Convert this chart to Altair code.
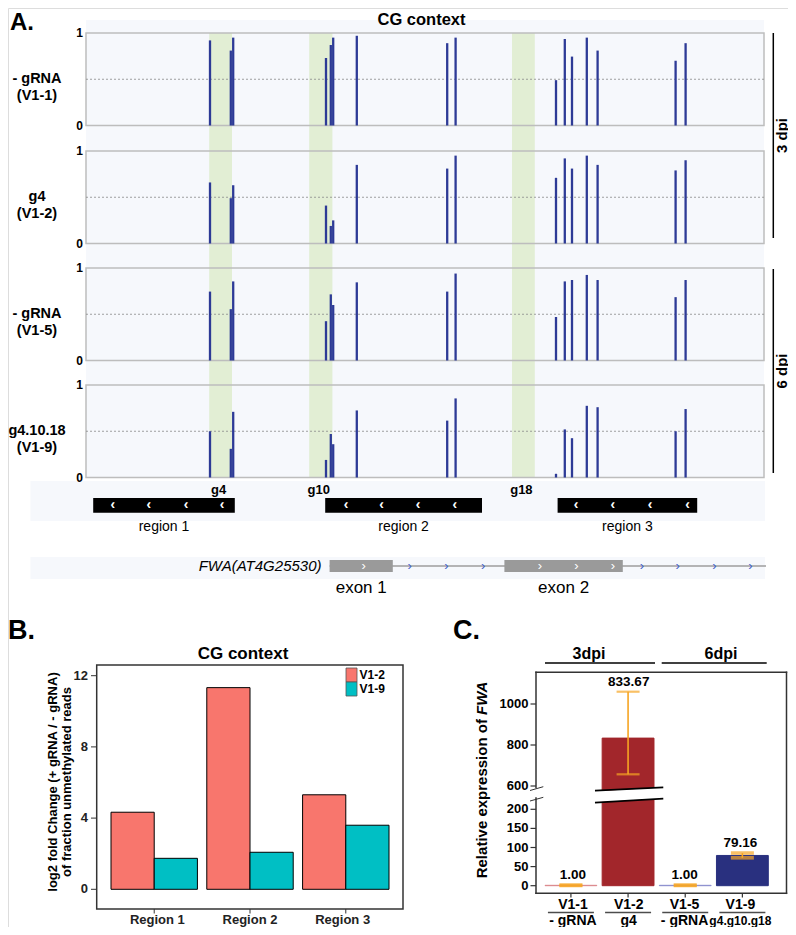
import altair as alt
import pandas as pd

FONT = "Liberation Sans"

# ---------------- data ----------------
# Panel A: CG sites along the FWA locus (bp, relative to view start)
cg_pos = [310, 362, 368, 600, 612, 618, 677, 903, 924, 1175, 1197, 1215, 1252, 1279, 1474, 1499]
row_names = ["- gRNA\n(V1-1)", "g4\n(V1-2)", "- gRNA\n(V1-5)", "g4.10.18\n(V1-9)"]
meth_v11 = [0.92, 0.81, 0.95, 0.73, 0.87, 0.95, 0.97, 0.89, 0.95, 0.49, 0.935, 0.745, 0.95, 0.81, 0.70, 0.89]
meth_v12 = [0.66, 0.49, 0.63, 0.41, 0.19, 0.25, 0.85, 0.81, 0.95, 0.71, 0.92, 0.81, 0.95, 0.85, 0.79, 0.90]
meth_v15 = [0.745, 0.555, 0.855, 0.425, 0.715, 0.60, 0.845, 0.745, 0.94, 0.47, 0.855, 0.87, 0.925, 0.87, 0.685, 0.87]
meth_v19 = [0.50, 0.31, 0.71, 0.19, 0.47, 0.36, 0.725, 0.615, 0.855, 0.04, 0.52, 0.425, 0.775, 0.76, 0.50, 0.74]
meth_rows = [meth_v11, meth_v12, meth_v15, meth_v19]

grna_names = ["g4", "g10", "g18"]
grna_start = [308, 558, 1065]
grna_end = [365, 616, 1122]

region_names = ["region 1", "region 2", "region 3"]
region_start = [18, 598, 1179]
region_end = [372, 990, 1528]
region_arrows = [67, 157, 250, 340, 650, 739, 830, 922, 1225, 1317, 1410, 1504]

exon_names = ["exon 1", "exon 2"]
exon_start = [609, 1046]
exon_end = [767, 1342]
gene_start, gene_end = 609, 1700
exon_arrows = [694, 1135, 1226, 1317]
intron_arrows = [809, 901, 993, 1390, 1479, 1571, 1661]

# Panel B
b_regions = ["Region 1", "Region 2", "Region 3"]
b_series = ["V1-2", "V1-9"]
b_v12 = [4.33, 11.33, 5.31]
b_v19 = [1.74, 2.08, 3.60]
b_ticks = [0, 4, 8, 12]

# Panel C
c_samples = ["V1-1", "V1-2", "V1-5", "V1-9"]
c_treat = ["- gRNA", "g4", "- gRNA", "g4.g10.g18"]
c_expr = [1.00, 833.67, 1.00, 79.16]
c_lo = [0.6, 657, 0.6, 73]
c_hi = [1.4, 1060, 1.4, 85.5]
c_ticks_low = [0, 50, 100, 150, 200]
c_ticks_high = [600, 800, 1000]

# ---------------- helpers ----------------
M = 8


def P(v):
    return v - M


ONE = alt.Data(values=[{"k": 0}])
BG = "#f6f8fc"
GREEN = "#e2eed4"
BLUE = "#2d3a96"
ORANGE = "#f6a523"


def txt(s, x, y, size, weight="bold", align="center", baseline="middle",
        angle=0, style="normal", color="black", lh=None):
    kw = dict(font=FONT, fontSize=size, fontWeight=weight, align=align,
              baseline=baseline, fontStyle=style, color=color)
    if angle:
        kw["angle"] = angle
    if "\n" in s:
        kw["lineBreak"] = "\n"
        if lh:
            kw["lineHeight"] = lh
    return alt.Chart(ONE).mark_text(**kw).encode(
        x=alt.value(P(x)), y=alt.value(P(y)), text=alt.value(s))


def seg(x1, y1, x2, y2, color="black", w=1.5, dash=None, cap="butt"):
    kw = dict(color=color, strokeWidth=w, strokeCap=cap)
    if dash:
        kw["strokeDash"] = dash
    return alt.Chart(ONE).mark_rule(**kw).encode(
        x=alt.value(P(x1)), y=alt.value(P(y1)),
        x2=alt.value(P(x2)), y2=alt.value(P(y2)))


def box(x1, y1, x2, y2, fill=None, stroke=None, w=1.0):
    kw = dict(strokeWidth=w)
    if fill:
        kw["fill"] = fill
    else:
        kw["fillOpacity"] = 0
    if stroke:
        kw["stroke"] = stroke
    return alt.Chart(ONE).mark_rect(**kw).encode(
        x=alt.value(P(x1)), y=alt.value(P(y1)),
        x2=alt.value(P(x2)), y2=alt.value(P(y2)))


layers = []

# ================= Panel A =================
XA = alt.Scale(domain=[0, 1695], range=[P(86), P(764)])
layers.append(box(86, 20, 764, 477.7, fill=BG))
layers.append(box(30.5, 481, 765, 521, fill=BG))
layers.append(box(30.5, 557, 765, 579, fill=BG))
layers.append(txt("A.", 10, 10.5, 24, align="left", baseline="top"))
layers.append(txt("CG context", 421.5, 25, 16.5, baseline="alphabetic"))

df_g = pd.DataFrame({"g": grna_names, "s": grna_start, "e": grna_end})
df_g["mid"] = (df_g["s"] + df_g["e"]) / 2
layers.append(alt.Chart(df_g).mark_rect(color=GREEN).encode(
    x=alt.X("s:Q", scale=XA, axis=None), x2="e:Q",
    y=alt.value(P(33)), y2=alt.value(P(477.7))))

ROW_TOP = [33, 151, 268, 385]
ROW_H = 92.5
for i, vals in enumerate(meth_rows):
    top = ROW_TOP[i]
    bot = top + ROW_H
    YR = alt.Scale(domain=[0, 1], range=[P(bot), P(top)])
    layers.append(box(86, top, 764, bot, stroke="#bdbdbd", w=1.5))
    layers.append(alt.Chart(pd.DataFrame({"v": [0.5]})).mark_rule(
        color="#8a8a8a", strokeWidth=0.8, strokeDash=[2, 2]).encode(
        x=alt.value(P(86)), x2=alt.value(P(764)),
        y=alt.Y("v:Q", scale=YR, axis=None)))
    df = pd.DataFrame({"pos": cg_pos, "frac": vals})
    layers.append(alt.Chart(df).mark_rule(color=BLUE, strokeWidth=2.3).encode(
        x=alt.X("pos:Q", scale=XA, axis=None),
        y=alt.Y("frac:Q", scale=YR, axis=None), y2=alt.datum(0)))
    layers.append(alt.Chart(pd.DataFrame({"v": [0, 1]})).mark_text(
        font=FONT, fontSize=12, fontWeight="bold", align="right", baseline="middle").encode(
        x=alt.value(P(83)), y=alt.Y("v:Q", scale=YR, axis=None), text="v:Q"))
    layers.append(txt(row_names[i], 37, (top + bot) / 2, 14.5, lh=17))

layers.append(seg(773.3, 33, 773.3, 238))
layers.append(txt("3 dpi", 781.5, 135.5, 15, angle=270))
layers.append(seg(773.3, 269, 773.3, 473))
layers.append(txt("6 dpi", 781.5, 371, 15, angle=270))

layers.append(alt.Chart(df_g).mark_text(font=FONT, fontSize=13, fontWeight="bold", dx=-2).encode(
    x=alt.X("mid:Q", scale=XA, axis=None), y=alt.value(P(490)), text="g:N"))

# region track
df_r = pd.DataFrame({"r": region_names, "s": region_start, "e": region_end})
df_r["mid"] = (df_r["s"] + df_r["e"]) / 2
layers.append(alt.Chart(df_r).mark_rect(color="black").encode(
    x=alt.X("s:Q", scale=XA, axis=None), x2="e:Q",
    y=alt.value(P(498)), y2=alt.value(P(512.7))))
layers.append(alt.Chart(pd.DataFrame({"p": region_arrows})).mark_text(
    font=FONT, fontSize=14, fontWeight="bold", color="white", baseline="middle").encode(
    x=alt.X("p:Q", scale=XA, axis=None), y=alt.value(P(504.5)), text=alt.value("\u2039")))
layers.append(alt.Chart(df_r).mark_text(font=FONT, fontSize=14, baseline="middle").encode(
    x=alt.X("mid:Q", scale=XA, axis=None), y=alt.value(P(527)), text="r:N"))

# gene track
layers.append(alt.Chart(pd.DataFrame({"s": [gene_start], "e": [gene_end]})).mark_rule(
    color="#9e9e9e", strokeWidth=1.5).encode(
    x=alt.X("s:Q", scale=XA, axis=None), x2="e:Q", y=alt.value(P(566))))
df_e = pd.DataFrame({"n": exon_names, "s": exon_start, "e": exon_end})
df_e["mid"] = (df_e["s"] + df_e["e"]) / 2
layers.append(alt.Chart(df_e).mark_rect(color="#9a9a9a").encode(
    x=alt.X("s:Q", scale=XA, axis=None), x2="e:Q",
    y=alt.value(P(560)), y2=alt.value(P(572))))
layers.append(alt.Chart(pd.DataFrame({"p": exon_arrows})).mark_text(
    font=FONT, fontSize=13, color="white", baseline="middle").encode(
    x=alt.X("p:Q", scale=XA, axis=None), y=alt.value(P(565.5)), text=alt.value("\u203a")))
layers.append(alt.Chart(pd.DataFrame({"p": intron_arrows})).mark_text(
    font=FONT, fontSize=13, color="#3f5fc8", baseline="middle").encode(
    x=alt.X("p:Q", scale=XA, axis=None), y=alt.value(P(565.5)), text=alt.value("\u203a")))
layers.append(txt("FWA(AT4G25530)", 321.5, 566, 15, weight="normal", align="right", style="italic"))
layers.append(alt.Chart(df_e).mark_text(font=FONT, fontSize=17, baseline="middle").encode(
    x=alt.X("mid:Q", scale=XA, axis=None), y=alt.value(P(588)), text="n:N"))

# ================= Panel B =================
layers.append(txt("B.", 8, 639, 27, align="left", baseline="alphabetic"))
layers.append(txt("CG context", 243, 659, 17, baseline="alphabetic"))
layers.append(box(96.7, 665, 403, 909, stroke="#333333", w=1.5))
XB = alt.Scale(domain=b_regions, range=[P(111), P(389)], paddingInner=0.098, paddingOuter=0)
YB = alt.Scale(domain=[0, 12], range=[P(889.3), P(675.7)])
CB = alt.Scale(domain=b_series, range=["#F8766D", "#00BFC4"])
df_b = pd.DataFrame({
    "region": b_regions * 2,
    "series": ["V1-2"] * 3 + ["V1-9"] * 3,
    "val": b_v12 + b_v19,
})
layers.append(alt.Chart(df_b).mark_bar(stroke="black", strokeWidth=1).encode(
    x=alt.X("region:N", scale=XB, axis=None),
    xOffset=alt.XOffset("series:N", scale=alt.Scale(domain=b_series, paddingInner=0, paddingOuter=0)),
    y=alt.Y("val:Q", scale=YB, axis=None),
    fill=alt.Fill("series:N", scale=CB, legend=None)))
df_bt = pd.DataFrame({"t": b_ticks})
layers.append(alt.Chart(df_bt).mark_rule(color="#333333", strokeWidth=1).encode(
    x=alt.value(P(91)), x2=alt.value(P(96.7)), y=alt.Y("t:Q", scale=YB, axis=None)))
layers.append(alt.Chart(df_bt).mark_text(font=FONT, fontSize=13, fontWeight="bold",
                                         align="right", baseline="middle", color="#222").encode(
    x=alt.value(P(88)), y=alt.Y("t:Q", scale=YB, axis=None), text="t:Q"))
df_br = pd.DataFrame({"region": b_regions})
layers.append(alt.Chart(df_br).mark_rule(color="#333333", strokeWidth=1).encode(
    x=alt.X("region:N", scale=XB, axis=None), y=alt.value(P(909)), y2=alt.value(P(913.5))))
layers.append(alt.Chart(df_br).mark_text(font=FONT, fontSize=13, fontWeight="bold",
                                         baseline="middle", color="#222").encode(
    x=alt.X("region:N", scale=XB, axis=None), y=alt.value(P(920)), text="region:N"))
layers.append(txt("log2 fold Change (+ gRNA / - gRNA)\nof fraction unmethylated reads",
                  53, 782, 13, angle=270, lh=14))
# legend
YL = alt.Scale(domain=b_series, range=[P(668), P(696)], paddingInner=0, paddingOuter=0)
df_l = pd.DataFrame({"series": b_series})
layers.append(alt.Chart(df_l).mark_rect(stroke="#555555", strokeWidth=0.8).encode(
    x=alt.value(P(346)), x2=alt.value(P(357)),
    y=alt.Y("series:N", scale=YL, axis=None),
    fill=alt.Fill("series:N", scale=CB, legend=None)))
layers.append(alt.Chart(df_l).mark_text(font=FONT, fontSize=12, fontWeight="bold",
                                        align="left", baseline="middle").encode(
    x=alt.value(P(359.5)), y=alt.Y("series:N", scale=YL, axis=None), text="series:N"))

# ================= Panel C =================
layers.append(txt("C.", 453, 639, 27, align="left", baseline="alphabetic"))
layers.append(txt("3dpi", 589, 658.5, 16, baseline="alphabetic"))
layers.append(seg(545, 663, 655, 663))
layers.append(txt("6dpi", 721, 658.5, 16, baseline="alphabetic"))
layers.append(seg(661.7, 663, 766.7, 663))

XC = alt.Scale(domain=c_samples, range=[P(545), P(768.3)], paddingInner=0.093, paddingOuter=0)
YCL = alt.Scale(domain=[0, 200], range=[P(885.7), P(809.3)])
YCU = alt.Scale(domain=[600, 1000], range=[P(786), P(704)])
CC = alt.Scale(domain=c_samples, range=["#dc8a8e", "#a2262b", "#8e92cf", "#29307f"])
df_c = pd.DataFrame({"sample": c_samples, "treat": c_treat, "expr": c_expr,
                     "lo": c_lo, "hi": c_hi})

layers.append(alt.Chart(df_c).transform_calculate(top="min(datum.expr, 245)").mark_bar(
    strokeWidth=1).encode(
    x=alt.X("sample:N", scale=XC, axis=None),
    y=alt.Y("top:Q", scale=YCL, axis=None), y2=alt.datum(0),
    fill=alt.Fill("sample:N", scale=CC, legend=None),
    stroke=alt.Stroke("sample:N", scale=CC, legend=None)))
layers.append(alt.Chart(df_c).transform_filter("datum.expr > 600").transform_calculate(
    bot="575").mark_bar(strokeWidth=1).encode(
    x=alt.X("sample:N", scale=XC, axis=None),
    y=alt.Y("expr:Q", scale=YCU, axis=None), y2="bot:Q",
    fill=alt.Fill("sample:N", scale=CC, legend=None),
    stroke=alt.Stroke("sample:N", scale=CC, legend=None)))

for cond, YS, thick in [("datum.expr < 600", YCL, 3.6), ("datum.expr > 600", YCU, 2.2)]:
    base = alt.Chart(df_c).transform_filter(cond)
    layers.append(base.mark_rule(color=ORANGE, strokeWidth=1.6).encode(
        x=alt.X("sample:N", scale=XC, axis=None),
        y=alt.Y("lo:Q", scale=YS, axis=None), y2="hi:Q"))
    for f in ["lo", "hi"]:
        layers.append(base.mark_tick(orient="horizontal", size=23, thickness=thick,
                                     color=ORANGE).encode(
            x=alt.X("sample:N", scale=XC, axis=None),
            y=alt.Y(f + ":Q", scale=YS, axis=None)))
    layers.append(base.mark_text(font=FONT, fontSize=13.5, fontWeight="bold",
                                 baseline="middle", dy=-10).encode(
        x=alt.X("sample:N", scale=XC, axis=None),
        y=alt.Y("hi:Q", scale=YS, axis=None),
        text=alt.Text("expr:Q", format=".2f")))

# broken bar marker
layers.append(seg(595, 796.7, 663.3, 793, color="white", w=11))
layers.append(seg(595, 790.7, 663.3, 787.3, w=1.8))
layers.append(seg(595, 802.7, 663.3, 798.7, w=1.8))

# frame
FR = "#333333"
layers.append(seg(536, 672.3, 786.5, 672.3, color=FR, cap="square"))
layers.append(seg(786.5, 672.3, 786.5, 893.3, color=FR, cap="square"))
layers.append(seg(536, 893.3, 786.5, 893.3, color=FR, cap="square"))
layers.append(seg(536, 672.3, 536, 787.5, color=FR, cap="square"))
layers.append(seg(536, 798, 536, 893.3, color=FR, cap="square"))
layers.append(seg(530, 790.5, 543.3, 786.7, color=FR, w=1))
layers.append(seg(530, 801, 543.3, 797.3, color=FR, w=1))

for ticks, YS in [(c_ticks_low, YCL), (c_ticks_high, YCU)]:
    dft = pd.DataFrame({"t": ticks})
    layers.append(alt.Chart(dft).mark_rule(color=FR, strokeWidth=1.2).encode(
        x=alt.value(P(530.5)), x2=alt.value(P(536)), y=alt.Y("t:Q", scale=YS, axis=None)))
    layers.append(alt.Chart(dft).mark_text(font=FONT, fontSize=13, fontWeight="bold",
                                           align="right", baseline="middle").encode(
        x=alt.value(P(528.5)), y=alt.Y("t:Q", scale=YS, axis=None), text="t:Q"))

layers.append(alt.Chart(df_c).mark_rule(color=FR, strokeWidth=1.2).encode(
    x=alt.X("sample:N", scale=XC, axis=None), y=alt.value(P(893.3)), y2=alt.value(P(897.5))))
layers.append(alt.Chart(df_c).mark_text(font=FONT, fontSize=14, fontWeight="bold",
                                        baseline="middle").encode(
    x=alt.X("sample:N", scale=XC, axis=None), y=alt.value(P(905)), text="sample:N"))
layers.append(alt.Chart(df_c).mark_tick(orient="horizontal", size=46, thickness=1.5,
                                        color="black").encode(
    x=alt.X("sample:N", scale=XC, axis=None), y=alt.value(P(912.5))))
layers.append(alt.Chart(df_c).transform_calculate(
    fs="length(datum.treat) > 6 ? 12 : 14").mark_text(
    font=FONT, fontWeight="bold", baseline="middle").encode(
    x=alt.X("sample:N", scale=XC, axis=None), y=alt.value(P(920.5)), text="treat:N",
    size=alt.Size("fs:Q", scale=None, legend=None)))

layers.append(txt("Relative expression of", 481.7, 878.3, 15, align="left", angle=270))
layers.append(txt("FWA", 481.7, 714.9, 15, align="left", angle=270, style="italic"))

chart = alt.layer(*layers).properties(
    width=780, height=919, padding=0,
    autosize=alt.AutoSizeParams(type="none"),
).resolve_scale(
    x="independent", y="independent", fill="independent",
    stroke="independent", color="independent", xOffset="independent",
    size="independent",
).configure_view(stroke=None).configure(background="white")

chart.save("out.html", embed_options={"renderer": "svg", "actions": False})
